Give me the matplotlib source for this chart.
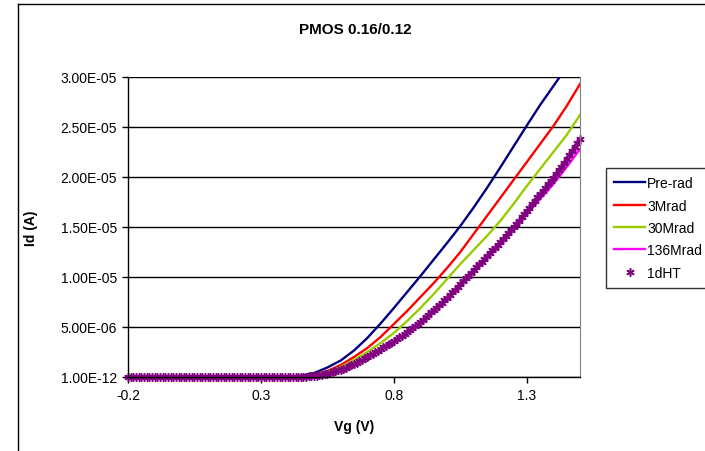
import numpy as np
import matplotlib
matplotlib.use("Agg")
import matplotlib.pyplot as plt
from matplotlib.lines import Line2D

plt.rcParams['font.family'] = ['Liberation Sans', 'DejaVu Sans']

# Gate voltage grid for the line series (V)
vg_lines = [-0.20, -0.15, -0.10, -0.05, 0.00, 0.05, 0.10, 0.15, 0.20, 0.25,
            0.30, 0.35, 0.40, 0.45, 0.50, 0.55, 0.60, 0.65, 0.70, 0.75,
            0.80, 0.85, 0.90, 0.95, 1.00, 1.05, 1.10, 1.15, 1.20, 1.25,
            1.30, 1.35, 1.40, 1.45, 1.50]

# Drain current, in uA
pre_rad = [0, 0, 0, 0, 0, 0, 0, 0, 0, 0,
           0, 0, 0.02, 0.12, 0.4, 0.95, 1.65, 2.65, 3.9, 5.35,
           6.9, 8.5, 10.1, 11.75, 13.4, 15.1, 16.95, 18.9, 20.95, 23.05,
           25.15, 27.2, 29.1, 31.0, 33.0]
mrad3 = [0, 0, 0, 0, 0, 0, 0, 0, 0, 0,
         0, 0, 0, 0.05, 0.22, 0.6, 1.2, 2.0, 2.9, 4.0,
         5.3, 6.6, 8.0, 9.4, 10.9, 12.5, 14.3, 16.1, 17.9, 19.7,
         21.5, 23.3, 25.1, 27.1, 29.3]
mrad30 = [0, 0, 0, 0, 0, 0, 0, 0, 0, 0,
          0, 0, 0, 0.04, 0.16, 0.5, 1.0, 1.7, 2.5, 3.4,
          4.4, 5.6, 6.9, 8.3, 9.8, 11.3, 12.7, 14.1, 15.6, 17.3,
          19.1, 20.8, 22.5, 24.2, 26.2]
mrad136 = [0, 0, 0, 0, 0, 0, 0, 0, 0, 0,
           0, 0, 0, 0.03, 0.1, 0.33, 0.72, 1.25, 1.95, 2.75,
           3.55, 4.45, 5.45, 6.6, 7.8, 9.2, 10.6, 12.0, 13.4, 14.85,
           16.3, 17.8, 19.3, 21.0, 22.8]

# 1dHT was measured on the full 10 mV sweep, -0.20 .. 1.50 V (uA)
vg_ht = np.round(np.arange(-0.20, 1.505, 0.01), 2)
dht1 = [0, 0, 0, 0, 0, 0, 0, 0, 0, 0, 0,
        0, 0, 0, 0, 0, 0, 0, 0, 0, 0, 0,
        0, 0, 0, 0, 0, 0, 0, 0, 0, 0, 0,
        0, 0, 0, 0, 0, 0, 0, 0, 0, 0, 0,
        0, 0, 0, 0, 0, 0, 0, 0, 0, 0, 0,
        0, 0, 0, 0, 0, 0, 0, 0, 0, 0, 0.01,
        0.02, 0.04, 0.06, 0.08, 0.10, 0.14, 0.18, 0.23, 0.29, 0.35,
        0.43, 0.51, 0.59, 0.67, 0.75, 0.85, 0.95, 1.06, 1.18, 1.30,
        1.44, 1.58, 1.72, 1.86, 2.00, 2.16, 2.32, 2.48, 2.64, 2.80,
        2.96, 3.12, 3.28, 3.44, 3.60, 3.78, 3.96, 4.14, 4.32, 4.50,
        4.70, 4.90, 5.10, 5.30, 5.50, 5.74, 5.98, 6.22, 6.46, 6.70,
        6.94, 7.18, 7.42, 7.66, 7.90, 8.18, 8.46, 8.74, 9.02, 9.30,
        9.58, 9.86, 10.14, 10.42, 10.70, 10.98, 11.26, 11.54, 11.82, 12.10,
        12.38, 12.66, 12.94, 13.22, 13.50, 13.80, 14.10, 14.40, 14.70, 15.00,
        15.32, 15.64, 15.96, 16.28, 16.60, 16.94, 17.28, 17.62, 17.96, 18.30,
        18.62, 18.94, 19.26, 19.58, 19.90, 20.28, 20.66, 21.04, 21.42, 21.80,
        22.20, 22.60, 23.00, 23.40, 23.80]

yticks = [0, 5e-6, 1e-5, 1.5e-5, 2e-5, 2.5e-5, 3e-5]
ylabels = ["1.00E-12", "5.00E-06", "1.00E-05", "1.50E-05", "2.00E-05",
           "2.50E-05", "3.00E-05"]
xticks = [-0.2, 0.3, 0.8, 1.3]

fig = plt.figure(figsize=(7.05, 4.52), dpi=100)
ax = fig.add_axes([128 / 705, 74 / 452, 452 / 705, 300 / 452])

ua = 1e-6
ax.plot(vg_lines, np.array(pre_rad) * ua, color="#000080", lw=1.7, label="Pre-rad")
ax.plot(vg_lines, np.array(mrad3) * ua, color="#FF0000", lw=1.7, label="3Mrad")
ax.plot(vg_lines, np.array(mrad30) * ua, color="#99CC00", lw=1.7, label="30Mrad")
ax.plot(vg_lines, np.array(mrad136) * ua, color="#FF00FF", lw=1.7, label="136Mrad")
ax.plot(vg_ht, np.array(dht1) * ua, ls="none", marker=(6, 2, 0), ms=6, mew=1.1,
        color="#800080", clip_on=False, label="1dHT")

ax.set_xlim(-0.2, 1.5)
ax.set_ylim(0, 3e-5)
ax.set_yticks(yticks)
ax.set_yticklabels(ylabels)
ax.set_xticks(xticks)
ax.set_xticklabels(["-0.2", "0.3", "0.8", "1.3"])
ax.tick_params(labelsize=10, length=4, width=1, color="black", pad=4)
ax.yaxis.grid(True, color="black", lw=1)
ax.set_axisbelow(True)
ax.spines["top"].set_visible(False)
ax.spines["right"].set_color("#808080")
ax.spines["left"].set_linewidth(1)
ax.spines["bottom"].set_linewidth(1)

ax.set_xlabel("Vg (V)", fontsize=10, fontweight="bold", labelpad=12)
ax.set_ylabel("Id (A)", fontsize=10, fontweight="bold", labelpad=16)
fig.text(355 / 705, 1 - 30 / 452, "PMOS 0.16/0.12", fontsize=11,
         fontweight="bold", ha="center", va="center")

leg = fig.legend(loc="center left", bbox_to_anchor=(606 / 705, 1 - 229 / 452),
                 fontsize=10, frameon=True, fancybox=False, handlelength=2.2,
                 handletextpad=0.15, labelspacing=0.6, borderpad=0.6,
                 borderaxespad=0)
leg.get_frame().set_edgecolor("black")
leg.get_frame().set_linewidth(1)

# chart area border (clipped at right and bottom in the original)
fig.add_artist(Line2D([18 / 705, 18 / 705], [0, 1 - 5 / 452], color="black", lw=1))
fig.add_artist(Line2D([18 / 705, 1], [1 - 5 / 452, 1 - 5 / 452], color="black", lw=1))

fig.savefig("out.png", dpi=100)
